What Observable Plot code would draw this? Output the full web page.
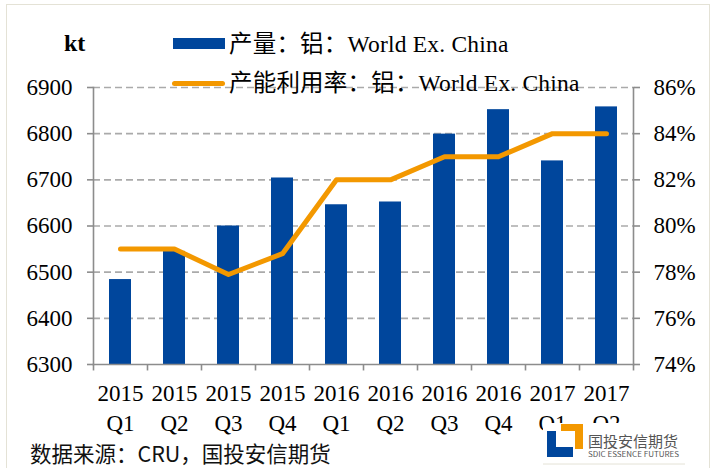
<!DOCTYPE html>
<html><head><meta charset="utf-8">
<script src="https://cdn.jsdelivr.net/npm/d3@7"></script>
<script src="https://cdn.jsdelivr.net/npm/@observablehq/plot@0.6"></script>
<style>
body{margin:0;background:#fff;}
#wrap{position:relative;width:720px;height:468px;overflow:hidden;font-family:"Liberation Serif",serif;}
#wrap .ov{position:absolute;white-space:nowrap;}
#wrap > svg text{font-family:"Liberation Serif",serif !important;font-variant:normal !important;stroke:none !important;}
</style></head>
<body><div id="wrap"></div>
<script>
const quarters = ["2015 Q1","2015 Q2","2015 Q3","2015 Q4","2016 Q1","2016 Q2","2016 Q3","2016 Q4","2017 Q1","2017 Q2"];
const output = [6484, 6545, 6600, 6704, 6646, 6652, 6799, 6852, 6741, 6858];
const utilization = [79.0, 79.0, 77.9, 78.8, 82.0, 82.0, 83.0, 83.0, 84.0, 84.0];
const leftTicks = [6300, 6400, 6500, 6600, 6700, 6800, 6900];
const rightTicks = [74, 76, 78, 80, 82, 84, 86];
const seriesNames = ["产量：铝：World Ex. China", "产能利用率：铝：World Ex. China"];
const unitLabel = "kt";
const sourceText = "数据来源：CRU，国投安信期货";

const BLUE = "#00469C", ORANGE = "#F39800", AXIS = "#8c8c8c";
const toLeft = p => leftTicks[0] + (p - rightTicks[0]) / (rightTicks[rightTicks.length-1] - rightTicks[0]) * (leftTicks[leftTicks.length-1] - leftTicks[0]);

const data = quarters.map((q, i) => ({q, output: output[i], util: toLeft(utilization[i])}));
const rightLabels = leftTicks.map((v, i) => ({v, label: rightTicks[i] + "%"}));

const chart = Plot.plot({
  width: 720, height: 468,
  marginLeft: 93, marginRight: 87, marginTop: 87, marginBottom: 104,
  style: {fontFamily: "Liberation Serif, serif", fontSize: "23px", color: "black", background: "transparent"},
  x: {domain: quarters, paddingInner: 0.6, paddingOuter: 0.3},
  y: {domain: [leftTicks[0], leftTicks[leftTicks.length-1]]},
  marks: [
    Plot.gridY(leftTicks.slice(1), {stroke: "#aaaaaa", strokeOpacity: 1, strokeWidth: 1.6, strokeDasharray: "7 4"}),
    Plot.barY(data, {x: "q", y1: leftTicks[0], y2: "output", fill: BLUE}),
    Plot.line(data, {x: "q", y: "util", stroke: ORANGE, strokeWidth: 5, strokeLinejoin: "round", strokeLinecap: "round"}),
    Plot.frame({anchor: "left", stroke: AXIS, strokeWidth: 1.6}),
    Plot.frame({anchor: "right", stroke: AXIS, strokeWidth: 1.6}),
    Plot.frame({anchor: "bottom", stroke: AXIS, strokeWidth: 1.6}),
    Plot.ruleX(quarters, {x: d => d, y1: leftTicks[0], y2: leftTicks[0] - 14, dx: -27, stroke: AXIS, strokeWidth: 1.6}),
    Plot.ruleX(quarters.slice(-1), {x: d => d, y1: leftTicks[0], y2: leftTicks[0] - 14, dx: 27, stroke: AXIS, strokeWidth: 1.6}),
    Plot.axisY({ticks: leftTicks, tickSize: 6, tickFormat: () => "", stroke: AXIS, strokeWidth: 1.6, label: null}),
    Plot.axisY({anchor: "right", ticks: leftTicks, tickSize: 6, tickFormat: () => "", stroke: AXIS, strokeWidth: 1.6, label: null}),
    Plot.text(leftTicks, {y: d => d, text: d => String(d), frameAnchor: "left", dx: -21, textAnchor: "end", fontSize: 23, fill: "black", lineAnchor: "middle"}),
    Plot.text(rightLabels, {y: "v", text: "label", frameAnchor: "right", dx: 20, textAnchor: "start", fontSize: 23, fill: "black", lineAnchor: "middle"}),
    Plot.axisX({tickSize: 0, tickPadding: 15, tickFormat: d => d.replace(" ", "\n"), lineHeight: 1.3, fill: "black", label: null, fontSize: 23})
  ]
});
const wrap = document.getElementById("wrap");
chart.style.position = "absolute"; chart.style.left = "0"; chart.style.top = "0";
wrap.appendChild(chart);

const ov = (html, css) => { const d = document.createElement("div"); d.className = "ov"; d.innerHTML = html; Object.assign(d.style, css); wrap.appendChild(d); return d; };

ov("", {left: "6px", top: "4px", width: "704px", height: "470px", border: "1.5px solid #e4e2d6", boxSizing: "border-box"});
ov(unitLabel, {left: "64px", top: "29px", fontSize: "24px", fontWeight: "bold", lineHeight: "28px"});
const cjk = '"Liberation Serif", "Noto Sans CJK SC", serif';
ov(`<span style="display:inline-block;width:52px;height:11px;background:${BLUE};vertical-align:middle;margin-right:4px"></span><span style="vertical-align:middle;letter-spacing:0.2px">${seriesNames[0]}</span>`,
   {left: "173px", top: "26px", fontSize: "23.5px", lineHeight: "30px", fontFamily: cjk});
ov(`<span style="display:inline-block;width:53px;height:5px;border-radius:3px;background:${ORANGE};vertical-align:middle;margin-right:4px;position:relative;top:1px"></span><span style="vertical-align:middle;letter-spacing:0.2px">${seriesNames[1]}</span>`,
   {left: "172px", top: "65px", fontSize: "23.5px", lineHeight: "30px", fontFamily: cjk});
ov(sourceText, {left: "30px", top: "441px", fontSize: "21.5px", lineHeight: "24px", fontFamily: '"Noto Sans CJK SC", sans-serif', color: "#111"});
ov(`<svg width="150" height="44" viewBox="0 0 150 44" style="font-family:'Noto Sans CJK SC',sans-serif">
  <path d="M4,8 H13 V24 H30 V34 H4 Z" fill="${BLUE}"/>
  <path d="M18,1 H40 V26 H32 V8 H18 Z" fill="${ORANGE}"/>
  <text x="45" y="24" font-size="15" fill="#555">国投安信期货</text>
  <text x="45" y="33.5" font-size="7.5" fill="#555" textLength="91" lengthAdjust="spacingAndGlyphs">SDIC ESSENCE FUTURES</text>
  <line x1="0" y1="41" x2="142" y2="41" stroke="#e4e2d6" stroke-width="1"/>
</svg>`, {left: "543px", top: "423px", background: "#fff"});
</script></body></html>
